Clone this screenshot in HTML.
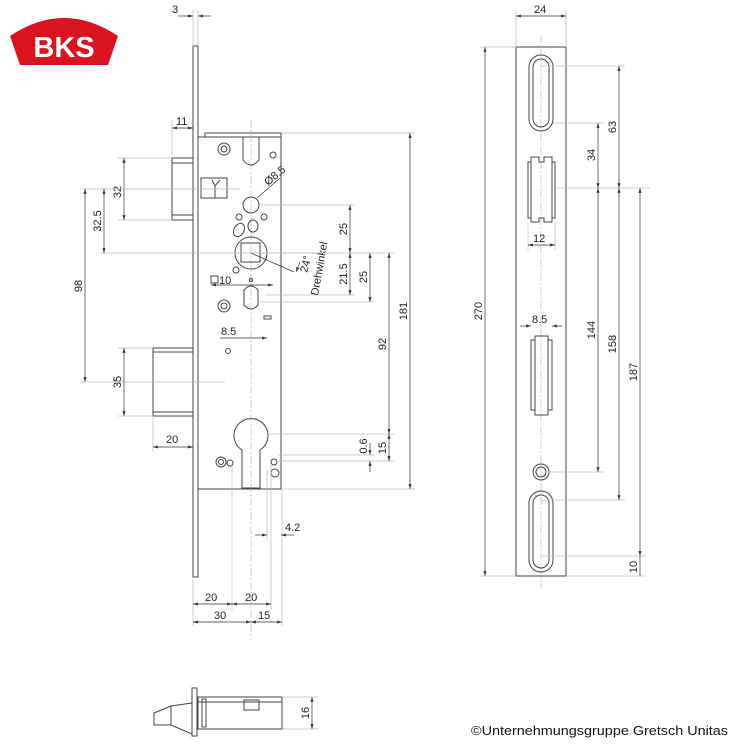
<!DOCTYPE html>
<html><head><meta charset="utf-8"><style>
html,body{margin:0;padding:0;background:#fff}
svg{display:block}
text{font-family:"Liberation Sans",sans-serif;font-size:11px;fill:#222}
.o{fill:none;stroke:#444;stroke-width:1}
.t{fill:none;stroke:#bbb;stroke-width:0.7}
.d{fill:none;stroke:#333;stroke-width:0.7}
.c{fill:none;stroke:#aaa;stroke-width:0.6;stroke-dasharray:8 2 2 2}
</style></head><body>
<svg width="732" height="752" viewBox="0 0 732 752" xmlns="http://www.w3.org/2000/svg">
<defs><marker id="a" markerWidth="8" markerHeight="6" refX="7" refY="3" orient="auto-start-reverse"><path d="M0,0.8 L7,3 L0,5.2z" fill="#333"/></marker></defs>
<!-- logo -->
<path d="M10,36 Q64,0 118,36 L108,65 L20,65 Z" fill="#d9141e"/>
<text x="64" y="57" text-anchor="middle" style="font-size:29px;font-weight:bold;fill:#fff">BKS</text>

<!-- faceplate -->
<rect class="o" x="193" y="46" width="5" height="531"/>
<!-- case -->
<rect class="o" x="198" y="137" width="83" height="352"/>
<rect class="o" x="205" y="133" width="76" height="4"/>
<line class="c" x1="251" y1="120" x2="251" y2="640"/>
<!-- latch -->
<rect class="o" x="172" y="158" width="21" height="62"/>
<line class="o" x1="172" y1="163" x2="193" y2="163"/><line class="o" x1="172" y1="215" x2="193" y2="215"/>
<rect class="o" x="201" y="178" width="26" height="20"/>
<path class="o" d="M212,180 L215,186 L220,180 M215,186 L215,198"/>
<!-- deadbolt -->
<rect class="o" x="153" y="348" width="40" height="68"/>
<line class="o" x1="153" y1="352" x2="193" y2="352"/><line class="o" x1="153" y1="412" x2="193" y2="412"/>
<!-- top latch mech -->
<path class="o" d="M243,137 V160 Q251,170 259,160 V137"/>
<circle class="o" cx="224" cy="149" r="6"/><circle class="o" cx="224" cy="149" r="3"/>
<circle class="o" cx="273" cy="155" r="3"/>
<!-- holes -->
<circle class="o" cx="251" cy="205" r="8"/>
<line class="d" x1="257" y1="198" x2="280" y2="178"/>
<text transform="translate(268,186) rotate(-40)">Ø8.5</text>
<circle class="o" cx="239" cy="217" r="3"/><circle class="o" cx="264" cy="217" r="3"/>
<ellipse class="o" cx="239" cy="230" rx="5" ry="7" transform="rotate(30 239 230)"/>
<ellipse class="o" cx="253" cy="226" rx="5" ry="6"/>
<circle class="o" cx="251" cy="253" r="16"/>
<rect class="o" x="241" y="243" width="19" height="19"/>
<line class="d" x1="251" y1="253" x2="294" y2="272"/>
<line class="d" x1="300" y1="262" x2="296" y2="272" marker-end="url(#a)"/>
<text transform="translate(307,273) rotate(-75)">24°</text>
<text transform="translate(318,296) rotate(-80)">Drehwinkel</text>
<circle class="o" cx="236" cy="270" r="3"/><circle class="o" cx="251" cy="280" r="1.5"/>
<path class="o" d="M244,290 Q251,282 258,290 V305 Q251,313 244,305 Z"/>
<circle class="o" cx="224" cy="306" r="6"/><circle class="o" cx="224" cy="306" r="3"/>
<rect class="o" x="264" y="316" width="7" height="3"/>
<circle class="o" cx="228" cy="351" r="2.5"/>
<rect class="o" x="211" y="276" width="7" height="7"/><text x="219" y="284">10</text>
<line class="d" x1="211" y1="285" x2="273" y2="285" marker-start="url(#a)" marker-end="url(#a)"/>
<line class="d" x1="220" y1="338" x2="267" y2="338" marker-end="url(#a)"/>
<text x="221" y="335">8.5</text>
<!-- cylinder -->
<path class="o" d="M242,450 A17,17 0 1 1 260,450 V488 H242 Z"/>
<circle class="o" cx="221" cy="462" r="5"/><circle class="o" cx="221" cy="462" r="2.5"/>
<circle class="o" cx="230" cy="463" r="3"/>
<circle class="o" cx="274" cy="462" r="3"/><circle class="o" cx="275" cy="473" r="4"/>
<!-- bottom extension lines -->
<line class="t" x1="193" y1="577" x2="193" y2="626"/>
<line class="t" x1="232" y1="465" x2="232" y2="610"/>
<line class="t" x1="271" y1="465" x2="271" y2="610"/>
<line class="t" x1="267" y1="470" x2="267" y2="540"/>
<line class="t" x1="282" y1="489" x2="282" y2="626"/>
<line class="d" x1="193" y1="604" x2="232" y2="604" marker-start="url(#a)" marker-end="url(#a)"/>
<line class="d" x1="232" y1="604" x2="271" y2="604" marker-start="url(#a)" marker-end="url(#a)"/>
<line class="d" x1="193" y1="622" x2="251" y2="622" marker-start="url(#a)" marker-end="url(#a)"/>
<line class="d" x1="251" y1="622" x2="282" y2="622" marker-start="url(#a)" marker-end="url(#a)"/>
<text x="205" y="601">20</text><text x="245" y="601">20</text>
<text x="214" y="619">30</text><text x="258" y="619">15</text>
<line class="d" x1="255" y1="535" x2="267" y2="535" marker-end="url(#a)"/>
<line class="d" x1="294" y1="535" x2="281" y2="535" marker-end="url(#a)"/>
<text x="285" y="531">4.2</text>
<!-- left dims -->
<line class="t" x1="193" y1="10" x2="193" y2="46"/><line class="t" x1="198" y1="10" x2="198" y2="46"/>
<line class="d" x1="178" y1="16" x2="193" y2="16" marker-end="url(#a)"/><line class="d" x1="211" y1="16" x2="198" y2="16" marker-end="url(#a)"/>
<text x="172" y="13">3</text>
<line class="t" x1="172" y1="120" x2="172" y2="158"/>
<line class="d" x1="172" y1="128" x2="193" y2="128" marker-start="url(#a)" marker-end="url(#a)"/>
<text x="176" y="125">11</text>
<line class="t" x1="118" y1="158" x2="172" y2="158"/><line class="t" x1="118" y1="220" x2="172" y2="220"/>
<line class="d" x1="124" y1="158" x2="124" y2="220" marker-start="url(#a)" marker-end="url(#a)"/>
<text x="121" y="192" transform="rotate(-90 121 192)" text-anchor="middle">32</text>
<line class="t" x1="80" y1="189" x2="240" y2="189"/>
<line class="t" x1="100" y1="253" x2="330" y2="253"/>
<line class="d" x1="104" y1="189" x2="104" y2="253" marker-start="url(#a)" marker-end="url(#a)"/>
<text x="101" y="221" transform="rotate(-90 101 221)" text-anchor="middle">32.5</text>
<line class="d" x1="85" y1="189" x2="85" y2="382" marker-start="url(#a)" marker-end="url(#a)"/>
<text x="82" y="286" transform="rotate(-90 82 286)" text-anchor="middle">98</text>
<line class="t" x1="80" y1="382" x2="225" y2="382"/>
<line class="t" x1="118" y1="348" x2="153" y2="348"/><line class="t" x1="118" y1="416" x2="153" y2="416"/>
<line class="d" x1="124" y1="348" x2="124" y2="416" marker-start="url(#a)" marker-end="url(#a)"/>
<text x="121" y="382" transform="rotate(-90 121 382)" text-anchor="middle">35</text>
<line class="t" x1="153" y1="416" x2="153" y2="452"/>
<line class="d" x1="153" y1="447" x2="193" y2="447" marker-start="url(#a)" marker-end="url(#a)"/>
<text x="166" y="443">20</text>
<!-- right dims -->
<line class="t" x1="259" y1="205" x2="355" y2="205"/>
<line class="t" x1="265" y1="295" x2="355" y2="295"/>
<line class="t" x1="260" y1="302" x2="374" y2="302"/>
<line class="t" x1="265" y1="253" x2="395" y2="253"/>
<line class="t" x1="268" y1="434" x2="395" y2="434"/>
<line class="t" x1="278" y1="461" x2="395" y2="461"/>
<line class="t" x1="281" y1="133" x2="415" y2="133"/>
<line class="t" x1="281" y1="489" x2="415" y2="489"/>
<line class="d" x1="350" y1="205" x2="350" y2="253" marker-start="url(#a)" marker-end="url(#a)"/>
<text x="347" y="229" transform="rotate(-90 347 229)" text-anchor="middle">25</text>
<line class="d" x1="350" y1="253" x2="350" y2="295" marker-start="url(#a)" marker-end="url(#a)"/>
<text x="347" y="274" transform="rotate(-90 347 274)" text-anchor="middle">21.5</text>
<line class="d" x1="370" y1="253" x2="370" y2="302" marker-start="url(#a)" marker-end="url(#a)"/>
<text x="367" y="277" transform="rotate(-90 367 277)" text-anchor="middle">25</text>
<line class="d" x1="389" y1="253" x2="389" y2="434" marker-start="url(#a)" marker-end="url(#a)"/>
<text x="386" y="344" transform="rotate(-90 386 344)" text-anchor="middle">92</text>
<line class="d" x1="389" y1="434" x2="389" y2="461" marker-start="url(#a)" marker-end="url(#a)"/>
<text x="386" y="448" transform="rotate(-90 386 448)" text-anchor="middle">15</text>
<line class="d" x1="370" y1="443" x2="370" y2="455" marker-end="url(#a)"/>
<line class="d" x1="370" y1="472" x2="370" y2="461" marker-end="url(#a)"/>
<text x="367" y="446" transform="rotate(-90 367 446)" text-anchor="middle">0.6</text>
<line class="t" x1="278" y1="455" x2="375" y2="455"/>
<line class="d" x1="410" y1="133" x2="410" y2="489" marker-start="url(#a)" marker-end="url(#a)"/>
<text x="407" y="311" transform="rotate(-90 407 311)" text-anchor="middle">181</text>

<!-- strike plate -->
<rect class="o" x="516" y="47" width="50" height="529"/>
<line class="c" x1="541" y1="35" x2="541" y2="590"/>
<line class="t" x1="516" y1="10" x2="516" y2="47"/><line class="t" x1="566" y1="10" x2="566" y2="47"/>
<line class="d" x1="516" y1="16" x2="566" y2="16" marker-start="url(#a)" marker-end="url(#a)"/>
<text x="534" y="13">24</text>
<rect class="o" x="529" y="55" width="24" height="76" rx="12"/><rect class="o" x="533" y="59" width="16" height="68" rx="8"/>
<rect class="o" x="529" y="491" width="24" height="81" rx="12"/><rect class="o" x="533" y="495" width="16" height="73" rx="8"/>
<path class="o" d="M528,162 H531 V157 H539 V162 H544 V157 H552 V162 H555 V218 H552 V222 H544 V218 H539 V222 H531 V218 H528 Z"/>
<line class="o" x1="531" y1="162" x2="531" y2="218"/><line class="o" x1="552" y1="162" x2="552" y2="218"/>
<path class="o" d="M531,345 V340 H535 V336 H548 V340 H552 V345 V410 H548 V415 H535 V410 H531 Z"/>
<line class="o" x1="535" y1="340" x2="535" y2="410"/><line class="o" x1="548" y1="340" x2="548" y2="410"/>
<circle class="o" cx="541" cy="472" r="8"/><circle class="o" cx="541" cy="472" r="5"/>
<line class="t" x1="528" y1="222" x2="528" y2="250"/><line class="t" x1="555" y1="222" x2="555" y2="250"/>
<line class="d" x1="528" y1="245" x2="555" y2="245" marker-start="url(#a)" marker-end="url(#a)"/>
<text x="533" y="242">12</text>
<line class="d" x1="520" y1="326" x2="531" y2="326" marker-end="url(#a)"/><line class="d" x1="562" y1="326" x2="552" y2="326" marker-end="url(#a)"/>
<text x="532" y="323">8.5</text>
<line class="t" x1="541" y1="66" x2="625" y2="66"/>
<line class="t" x1="553" y1="123" x2="604" y2="123"/>
<line class="t" x1="555" y1="188" x2="650" y2="188"/>
<line class="t" x1="549" y1="472" x2="604" y2="472"/>
<line class="t" x1="541" y1="500" x2="625" y2="500"/>
<line class="t" x1="541" y1="556" x2="646" y2="556"/>
<line class="t" x1="566" y1="576" x2="646" y2="576"/>
<line class="d" x1="485" y1="47" x2="485" y2="576" marker-start="url(#a)" marker-end="url(#a)"/>
<line class="t" x1="480" y1="47" x2="516" y2="47"/><line class="t" x1="480" y1="576" x2="516" y2="576"/>
<text x="482" y="311" transform="rotate(-90 482 311)" text-anchor="middle">270</text>
<line class="d" x1="619" y1="66" x2="619" y2="188" marker-start="url(#a)" marker-end="url(#a)"/>
<text x="616" y="127" transform="rotate(-90 616 127)" text-anchor="middle">63</text>
<line class="d" x1="598" y1="123" x2="598" y2="188" marker-start="url(#a)" marker-end="url(#a)"/>
<text x="595" y="155" transform="rotate(-90 595 155)" text-anchor="middle">34</text>
<line class="d" x1="598" y1="188" x2="598" y2="472" marker-start="url(#a)" marker-end="url(#a)"/>
<text x="595" y="330" transform="rotate(-90 595 330)" text-anchor="middle">144</text>
<line class="d" x1="619" y1="188" x2="619" y2="500" marker-start="url(#a)" marker-end="url(#a)"/>
<text x="616" y="344" transform="rotate(-90 616 344)" text-anchor="middle">158</text>
<line class="d" x1="640" y1="188" x2="640" y2="556" marker-start="url(#a)" marker-end="url(#a)"/>
<text x="637" y="372" transform="rotate(-90 637 372)" text-anchor="middle">187</text>
<line class="d" x1="640" y1="556" x2="640" y2="576"/>
<text x="637" y="567" transform="rotate(-90 637 567)" text-anchor="middle">10</text>

<!-- bottom view -->
<rect class="o" x="192" y="688" width="5" height="48"/>
<rect class="o" x="198" y="697" width="84" height="32"/>
<line class="o" x1="198" y1="702" x2="282" y2="702"/>
<rect class="o" x="202" y="699" width="4" height="28"/>
<rect class="o" x="244" y="700" width="15" height="10"/>
<path class="o" d="M192,703 L171,706 L154,713 L154,725 L171,725 L192,734"/>
<line class="o" x1="171" y1="706" x2="171" y2="725"/>
<line class="t" x1="282" y1="697" x2="318" y2="697"/><line class="t" x1="282" y1="729" x2="318" y2="729"/>
<line class="d" x1="312" y1="697" x2="312" y2="729" marker-start="url(#a)" marker-end="url(#a)"/>
<text x="309" y="713" transform="rotate(-90 309 713)" text-anchor="middle">16</text>

<text x="471" y="735" textLength="257" lengthAdjust="spacingAndGlyphs" style="font-size:13px;fill:#111">©Unternehmungsgruppe Gretsch Unitas</text>
</svg>
</body></html>
